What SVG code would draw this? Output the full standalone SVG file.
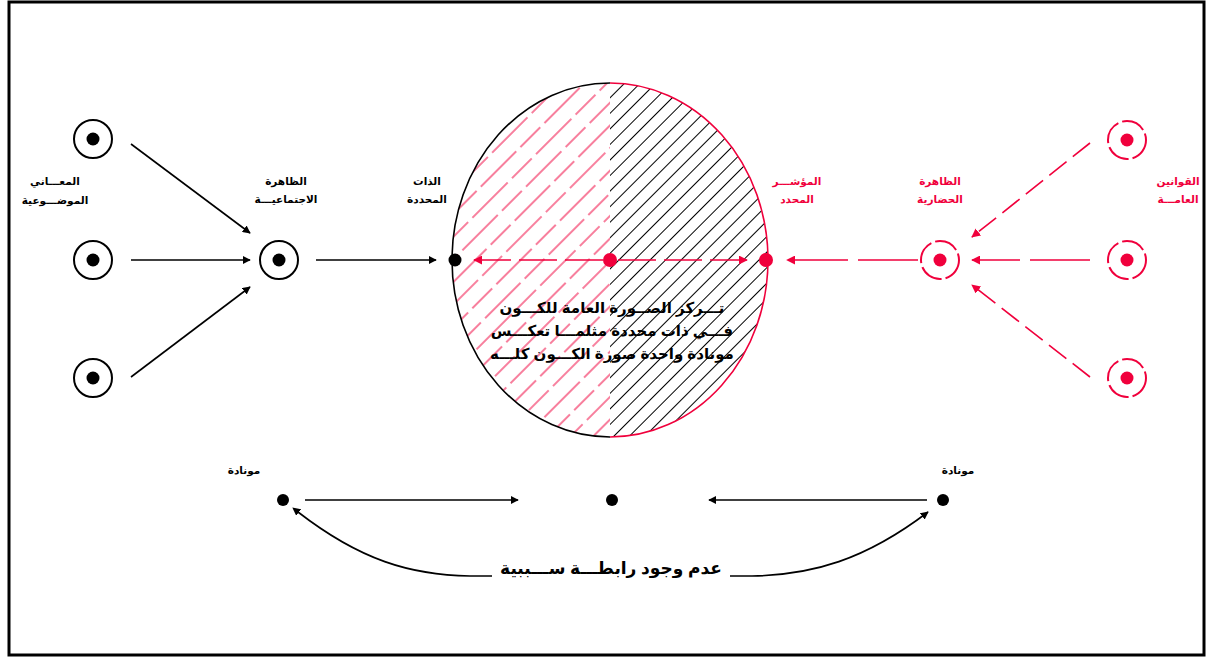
<svg xmlns="http://www.w3.org/2000/svg" width="1213" height="661" viewBox="0 0 1213 661">
<style>
.lb{font-family:"Liberation Sans","DejaVu Sans",sans-serif;font-weight:bold;font-size:10.5px;text-anchor:middle}
.blk{fill:#000}
.red{fill:#f0003c}
.ring{fill:#fff;stroke:#000;stroke-width:2}
.rring{fill:#fff;stroke:#f0003c;stroke-width:2;stroke-dasharray:24 4}
.ln{stroke:#000;stroke-width:1.6;fill:none}
.rln{stroke:#f0003c;stroke-width:1.6;fill:none}
.big{font-family:"Liberation Sans","DejaVu Sans",sans-serif;font-weight:bold;text-anchor:middle;fill:#000}
</style>
<defs>
<marker id="ab" viewBox="0 0 10 10" refX="9" refY="5" markerWidth="8" markerHeight="8" markerUnits="userSpaceOnUse" orient="auto"><path d="M0,0L10,5L0,10z" fill="#000"/></marker>
<marker id="abs" viewBox="0 0 10 10" refX="1" refY="5" markerWidth="8" markerHeight="8" markerUnits="userSpaceOnUse" orient="auto-start-reverse"><path d="M0,0L10,5L0,10z" fill="#000"/></marker>
<marker id="ar" viewBox="0 0 10 10" refX="9" refY="5" markerWidth="9" markerHeight="9" markerUnits="userSpaceOnUse" orient="auto"><path d="M0,0L10,5L0,10z" fill="#f0003c"/></marker>
<pattern id="hr" patternUnits="userSpaceOnUse" width="90" height="48" patternTransform="rotate(-45)">
<line x1="0" y1="8" x2="90" y2="8" stroke="#f0003c" stroke-width="1" stroke-dasharray="50 6 28 6"/>
<line x1="0" y1="24" x2="90" y2="24" stroke="#f0003c" stroke-width="1" stroke-dasharray="50 6 28 6" stroke-dashoffset="30"/>
<line x1="0" y1="40" x2="90" y2="40" stroke="#f0003c" stroke-width="1" stroke-dasharray="50 6 28 6" stroke-dashoffset="62"/>
</pattern>
<pattern id="hb" patternUnits="userSpaceOnUse" width="40" height="11" patternTransform="rotate(-45)">
<line x1="0" y1="5.5" x2="40" y2="5.5" stroke="#000" stroke-width="1"/>
</pattern>
<clipPath id="cl"><rect x="440" y="70" width="170" height="380"/></clipPath>
<clipPath id="cr"><rect x="610" y="70" width="170" height="380"/></clipPath>
</defs>
<rect x="9" y="2" width="1195" height="653" fill="#fff" stroke="#000" stroke-width="3"/>

<g id="sphere">
<ellipse cx="610" cy="260" rx="158" ry="177" fill="url(#hr)" clip-path="url(#cl)"/>
<ellipse cx="610" cy="260" rx="158" ry="177" fill="url(#hb)" clip-path="url(#cr)"/>
<path d="M610,83 A158,177 0 0 0 610,437" class="ln"/>
<path d="M610,83 A158,177 0 0 1 610,437" class="rln"/>
<text class="big" font-size="15" x="612" y="313">تـــركز الصــورة العامة للكـــون</text>
<text class="big" font-size="15" x="612" y="336">فـــي ذات محددة مثلمـــا تعكـــس</text>
<text class="big" font-size="15" x="612" y="359">مونادة واحدة صورة الكـــون كلـــه</text>
</g>

<g id="connectors">
<line x1="131" y1="144" x2="250" y2="233" class="ln" stroke-width="1.3" marker-end="url(#ab)"/>
<line x1="131" y1="260" x2="250" y2="260" class="ln" marker-end="url(#ab)"/>
<line x1="131" y1="377" x2="250" y2="287" class="ln" stroke-width="1.3" marker-end="url(#ab)"/>
<line x1="316" y1="260" x2="436" y2="260" class="ln" marker-end="url(#ab)"/>
<line x1="603" y1="260" x2="474" y2="260" class="rln" stroke-dasharray="38 8" marker-end="url(#ar)"/>
<line x1="618" y1="260" x2="747" y2="260" class="rln" stroke-dasharray="38 8" marker-end="url(#ar)"/>
<line x1="1090" y1="143" x2="972" y2="237" class="rln" stroke-dasharray="22 8" marker-end="url(#ar)"/>
<line x1="1090" y1="260" x2="972" y2="260" class="rln" stroke-dasharray="60 10" marker-end="url(#ar)"/>
<line x1="1090" y1="377" x2="972" y2="285" class="rln" stroke-dasharray="22 8" marker-end="url(#ar)"/>
<line x1="918" y1="260" x2="787" y2="260" class="rln" stroke-dasharray="60 10" marker-end="url(#ar)"/>
<line x1="305" y1="500" x2="518" y2="500" class="ln" marker-end="url(#ab)"/>
<line x1="927" y1="500" x2="709" y2="500" class="ln" marker-end="url(#ab)"/>
<path d="M298,512 C360,560 410,575 470,576 L492,576" class="ln" marker-start="url(#abs)"/>
<path d="M730,576 L752,576 C812,575 865,560 928,512" class="ln" marker-end="url(#ab)"/>
</g>

<g id="n-left1"><circle cx="93" cy="139" r="19" class="ring"/><circle cx="93" cy="139" r="6.5" class="blk"/></g>
<g id="n-left2"><circle cx="93" cy="260" r="19" class="ring"/><circle cx="93" cy="260" r="6.5" class="blk"/></g>
<g id="n-left3"><circle cx="93" cy="378" r="19" class="ring"/><circle cx="93" cy="378" r="6.5" class="blk"/></g>
<g id="n-left-label">
<text class="lb" x="55" y="185" fill="#000">المعـــاني</text>
<text class="lb" x="55" y="204" fill="#000">الموضـــوعية</text>
</g>
<g id="n-social"><circle cx="279" cy="260" r="19" class="ring"/><circle cx="279" cy="260" r="6.5" class="blk"/>
<text class="lb" x="286" y="185" fill="#000">الظاهرة</text>
<text class="lb" x="286" y="203" fill="#000">الاجتماعيـــة</text></g>
<g id="n-self"><circle cx="455" cy="260" r="6.5" class="blk"/>
<text class="lb" x="427" y="185" fill="#000">الذات</text>
<text class="lb" x="427" y="203" fill="#000">المحددة</text></g>
<g id="n-center"><circle cx="610" cy="260" r="7" class="red"/></g>
<g id="n-indicator"><circle cx="766" cy="260" r="7" class="red"/>
<text class="lb" x="797" y="185" fill="#f0003c">المؤشـــر</text>
<text class="lb" x="797" y="203" fill="#f0003c">المحدد</text></g>
<g id="n-civil"><circle cx="940" cy="260" r="19" class="rring"/><circle cx="940" cy="260" r="6.5" class="red"/>
<text class="lb" x="940" y="185" fill="#f0003c">الظاهرة</text>
<text class="lb" x="940" y="203" fill="#f0003c">الحضارية</text></g>
<g id="n-right1"><circle cx="1127" cy="140" r="19" class="rring"/><circle cx="1127" cy="140" r="6.5" class="red"/></g>
<g id="n-right2"><circle cx="1127" cy="260" r="19" class="rring"/><circle cx="1127" cy="260" r="6.5" class="red"/></g>
<g id="n-right3"><circle cx="1127" cy="378" r="19" class="rring"/><circle cx="1127" cy="378" r="6.5" class="red"/></g>
<g id="n-right-label">
<text class="lb" x="1178" y="185" fill="#f0003c">القوانين</text>
<text class="lb" x="1178" y="203" fill="#f0003c">العامـــة</text>
</g>
<g id="n-monad-l"><circle cx="283" cy="500" r="6" class="blk"/>
<text class="lb" x="244" y="474" fill="#000">مونادة</text></g>
<g id="n-monad-c"><circle cx="612" cy="500" r="6" class="blk"/></g>
<g id="n-monad-r"><circle cx="943" cy="500" r="6" class="blk"/>
<text class="lb" x="958" y="474" fill="#000">مونادة</text></g>
<text class="big" font-size="17" x="611" y="574">عدم وجود رابطـــة ســـببية</text>
</svg>
